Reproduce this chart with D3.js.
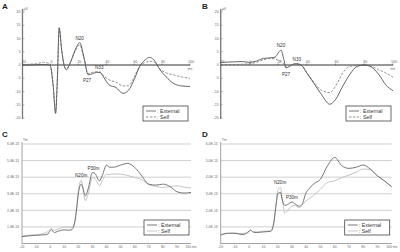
<!DOCTYPE html>
<html>
<head>
<meta charset="utf-8">
<script src="https://cdn.jsdelivr.net/npm/d3@7"></script>
<style>
  body { margin: 0; background: #fff; }
  svg { display: block; font-family: "Liberation Sans", Arial, sans-serif; }
</style>
</head>
<body>
<svg id="chart" width="400" height="252"></svg>
<script>
// ---- data ----
const timeA = [-20, -15, -10, -5, -2, 0, 2, 3.7, 5, 6.3, 8, 10, 11.5, 14, 18, 21, 24, 27, 30, 33, 35.5, 38, 42, 47, 52, 56, 60, 64, 68, 71, 74, 78.5, 83, 88, 94, 100];
const externalA = [0, 0, 0.1, 0.2, 0.1, -0.5, -8, -18.3, -5, 14.1, 6, -0.5, -1.8, 0.5, 6, 8.4, 3, -3.7, -3.3, -2.8, -2.8, -4.5, -7.5, -8.5, -10.7, -9.5, -5.5, -0.5, 2, 2.9, 2, -1.8, -4.5, -6.9, -7.9, -8.1];
const selfA = [0, 0.3, 0.5, 1, 0.8, -0.3, -8, -18, -5, 13.8, 6, -0.3, -1.5, 0.8, 5.5, 7.6, 2.5, -3.2, -2.8, -2.5, -2.6, -4, -5.6, -6.5, -7.9, -7.8, -4.5, -0.5, 1, 1.4, 1.2, -1.5, -3, -3.7, -4.5, -5];

const timeB = [-20, -10, -5, 0, 5, 10, 15, 18, 20, 22, 24, 25.5, 28, 31, 33, 36, 40, 45, 50, 56, 60, 65, 70, 75, 80, 85, 90, 95, 100];
const externalB = [1, 1.2, 1.3, 1, 1.5, 2.5, 2.7, 3, 4.5, 5.6, 2, -1.1, -0.5, 0.4, 0.5, 0, -3, -7, -11, -14.8, -13, -8, -3.5, -0.5, 0, -0.8, -3.5, -7.5, -9.7];
const selfB = [0.2, 0.2, 0.3, 0.5, 1, 2, 2.5, 2.3, 1.8, 1.5, 0.2, -0.8, -0.3, 0.3, 0.3, 0, -3, -6.5, -9.5, -10.4, -8, -3, -0.5, -0.2, 0, -0.5, -1.8, -3, -4.6];

const timeCD = [-20, -15, -10, -5, -2, 0, 1, 3, 5, 8, 10, 13, 15, 17, 19, 20, 22, 23, 25, 27, 30, 32, 35, 37, 40, 42, 45, 50, 55, 60, 65, 70, 75, 80, 85, 90, 95, 100];
const externalC = [0.42, 0.46, 0.5, 0.52, 0.55, 0.76, 0.82, 0.66, 0.72, 0.8, 0.82, 0.8, 0.82, 1.1, 2.2, 3.0, 3.58, 3.4, 2.88, 3.3, 4.28, 4.2, 3.78, 4.1, 4.73, 4.6, 4.6, 4.73, 4.83, 4.59, 4.08, 3.58, 3.52, 3.58, 3.44, 3.12, 3.04, 3.08];
const selfC = [0.45, 0.5, 0.52, 0.6, 0.7, 0.85, 0.9, 0.8, 0.85, 0.95, 1.0, 0.98, 0.95, 1.2, 2.4, 3.2, 3.8, 3.5, 2.58, 3.0, 3.98, 3.9, 3.48, 3.8, 4.18, 4.15, 4.2, 4.18, 4.1, 3.98, 3.85, 3.55, 3.45, 3.38, 3.42, 3.48, 3.4, 3.34];
const externalD = [0.5, 0.62, 0.62, 0.54, 0.6, 0.74, 0.8, 0.68, 0.66, 0.68, 0.7, 0.72, 0.72, 1.1, 2.4, 3.0, 3.08, 2.7, 2.3, 2.35, 2.5, 2.4, 2.25, 2.35, 3.08, 3.3, 3.58, 3.88, 4.69, 5.19, 4.69, 4.53, 4.6, 4.73, 4.49, 4.08, 3.78, 3.42];
const selfD = [0.55, 0.6, 0.62, 0.6, 0.65, 0.75, 0.8, 0.7, 0.7, 0.72, 0.75, 0.75, 0.78, 1.2, 2.5, 3.2, 3.38, 2.8, 1.83, 2.0, 2.27, 2.3, 2.17, 2.3, 2.58, 2.7, 2.88, 3.28, 3.68, 3.78, 3.98, 4.12, 4.3, 4.49, 4.45, 4.08, 3.75, 3.42];

const erpYTicks = [20, 15, 10, 5, 0, -5, -10, -15, -20];
const erpXTicks = [-20, 0, 20, 40, 60, 80, 100];
const megYTicks = [0, 1, 2, 3, 4, 5, 6];
const megYLabels = ["", "1.0E-13", "2.0E-13", "3.0E-13", "4.0E-13", "5.0E-13", "6.0E-13"];
const megXTicks = [-20, -10, 0, 10, 20, 30, 40, 50, 60, 70, 80, 90, 100];

const peaksA = [{ t: 21, v: 8.4, label: "N20", dx: 0, dy: -3 }, { t: 27, v: -3.7, label: "P27", dx: -1, dy: 7 }, { t: 35, v: -2.8, label: "N33", dx: 0, dy: -3 }];
const peaksB = [{ t: 22, v: 5.6, label: "N20", dx: 0, dy: -3 }, { t: 25.5, v: -1.1, label: "P27", dx: 0, dy: 8 }, { t: 33, v: 0.5, label: "N33", dx: 0, dy: -3 }];
const peaksC = [{ t: 22, v: 3.8, label: "N20m", dx: 0, dy: -3 }, { t: 30, v: 4.28, label: "P30m", dx: 1, dy: -3 }];
const peaksD = [{ t: 21, v: 3.38, label: "N20m", dx: 1, dy: -3 }, { t: 30, v: 2.5, label: "P30m", dx: 0, dy: -3 }];

const svg = d3.select("#chart");
const darkLine = "#555";

function panelLetter(x, y, txt) {
    svg.append("text").attr("x", x).attr("y", y).text(txt)
        .attr("font-size", 8).attr("font-weight", "bold").attr("fill", "#222");
}

function legend(g, x0, y0, selfStroke, selfDash) {
    const lg = g.append("g").attr("transform", `translate(${x0},${y0})`);
    lg.append("rect").attr("width", 45).attr("height", 15)
        .attr("fill", "#fff").attr("stroke", "#444").attr("stroke-width", 0.8);
    lg.append("line").attr("x1", 3).attr("x2", 13).attr("y1", 5).attr("y2", 5)
        .attr("stroke", darkLine).attr("stroke-width", 0.8);
    lg.append("line").attr("x1", 3).attr("x2", 13).attr("y1", 11).attr("y2", 11)
        .attr("stroke", selfStroke).attr("stroke-width", 0.8).attr("stroke-dasharray", selfDash);
    lg.append("text").attr("x", 14).attr("y", 7).text(": External").attr("font-size", 5.3).attr("fill", "#333");
    lg.append("text").attr("x", 14).attr("y", 13).text(": Self").attr("font-size", 5.3).attr("fill", "#333");
}

function peakLabels(g, x, y, peaks) {
    g.selectAll("text.pk").data(peaks).join("text")
        .attr("class", "pk")
        .attr("x", d => x(d.t) + d.dx)
        .attr("y", d => y(d.v) + d.dy)
        .attr("text-anchor", "middle")
        .attr("font-size", 4.6).attr("fill", "#333")
        .text(d => d.label);
}

// ERP panels (A, B)
function erpPanel(left, right, time, ext, self, peaks) {
    const x = d3.scaleLinear().domain([-20, 100]).range([left, right]);
    const y = d3.scaleLinear().domain([-20, 20]).range([118, 12]);
    const g = svg.append("g");

    // y axis
    g.append("line").attr("x1", left).attr("x2", left).attr("y1", 9).attr("y2", 119)
        .attr("stroke", "#777").attr("stroke-width", 1.3);
    g.selectAll("line.yt").data(erpYTicks).join("line").attr("class", "yt")
        .attr("x1", left).attr("x2", left + 2).attr("y1", d => y(d)).attr("y2", d => y(d))
        .attr("stroke", "#777").attr("stroke-width", 0.5);
    g.selectAll("text.yl").data(erpYTicks).join("text").attr("class", "yl")
        .attr("x", left - 2).attr("y", d => y(d) + 1.2)
        .attr("text-anchor", "end").attr("font-size", 3.6).attr("fill", "#666")
        .text(d => d);
    g.append("text").attr("x", left + 1).attr("y", 10).text("μV")
        .attr("font-size", 3.6).attr("fill", "#666");

    // zero line with x ticks
    g.append("line").attr("x1", left).attr("x2", right).attr("y1", y(0)).attr("y2", y(0))
        .attr("stroke", "#333").attr("stroke-width", 1.2);
    g.selectAll("line.xt").data(erpXTicks).join("line").attr("class", "xt")
        .attr("x1", d => x(d)).attr("x2", d => x(d)).attr("y1", y(0)).attr("y2", y(0) - 1.5)
        .attr("stroke", "#333").attr("stroke-width", 0.5);
    g.selectAll("text.xl").data(erpXTicks).join("text").attr("class", "xl")
        .attr("x", d => x(d) + 1).attr("y", y(0) - 2.5)
        .attr("text-anchor", "middle").attr("font-size", 3.6).attr("fill", "#666")
        .text(d => d);
    g.append("text").attr("x", right).attr("y", y(0) + 5).text("ms")
        .attr("text-anchor", "middle").attr("font-size", 3.6).attr("fill", "#666");

    const line = d3.line().x(d => x(d[0])).y(d => y(d[1])).curve(d3.curveMonotoneX);
    g.append("path").datum(d3.zip(time, self)).attr("d", line)
        .attr("fill", "none").attr("stroke", "#777").attr("stroke-width", 0.8)
        .attr("stroke-dasharray", "2.5,1.5");
    g.append("path").datum(d3.zip(time, ext)).attr("d", line)
        .attr("fill", "none").attr("stroke", darkLine).attr("stroke-width", 0.9);

    peakLabels(g, x, y, peaks);
    legend(g, right - 47, 106, "#777", "2.5,1.5");
}

// MEG panels (C, D)
function megPanel(left, right, time, ext, self, peaks) {
    const x = d3.scaleLinear().domain([-20, 100]).range([left, right]);
    const y = d3.scaleLinear().domain([0, 6]).range([243.5, 144]);
    const g = svg.append("g");

    g.selectAll("line.grid").data(megYTicks.slice(1)).join("line").attr("class", "grid")
        .attr("x1", left).attr("x2", right).attr("y1", d => y(d)).attr("y2", d => y(d))
        .attr("stroke", "#bbb").attr("stroke-width", 0.7);
    g.selectAll("text.yl").data(megYTicks).join("text").attr("class", "yl")
        .attr("x", left - 3).attr("y", d => y(d) + 1.2)
        .attr("text-anchor", "end").attr("font-size", 3.4).attr("fill", "#666")
        .text((d, i) => megYLabels[i]);
    g.append("text").attr("x", left + 1).attr("y", 141).text("Tm")
        .attr("font-size", 3.4).attr("fill", "#666");

    g.append("line").attr("x1", left).attr("x2", left).attr("y1", 142).attr("y2", 244)
        .attr("stroke", "#999").attr("stroke-width", 0.9);
    g.append("line").attr("x1", left).attr("x2", right).attr("y1", y(0)).attr("y2", y(0))
        .attr("stroke", "#999").attr("stroke-width", 0.9);
    g.selectAll("text.xl").data(megXTicks).join("text").attr("class", "xl")
        .attr("x", d => x(d)).attr("y", y(0) + 4.5)
        .attr("text-anchor", "middle").attr("font-size", 3.4).attr("fill", "#666")
        .text(d => d === 100 ? "100 ms" : d);

    const line = d3.line().x(d => x(d[0])).y(d => y(d[1])).curve(d3.curveMonotoneX);
    g.append("path").datum(d3.zip(time, self)).attr("d", line)
        .attr("fill", "none").attr("stroke", "#bdbdbd").attr("stroke-width", 0.9);
    g.append("path").datum(d3.zip(time, ext)).attr("d", line)
        .attr("fill", "none").attr("stroke", "#666").attr("stroke-width", 0.9);

    peakLabels(g, x, y, peaks);
    legend(g, right - 47, 220, "#bdbdbd", null);
}

panelLetter(2, 9, "A");
panelLetter(202, 9, "B");
panelLetter(2, 137, "C");
panelLetter(202, 137, "D");

erpPanel(22.5, 190, timeA, externalA, selfA, peaksA);
erpPanel(220.7, 393, timeB, externalB, selfB, peaksB);
megPanel(22, 191, timeCD, externalC, selfC, peaksC);
megPanel(220.7, 391.7, timeCD, externalD, selfD, peaksD);
</script>
</body>
</html>
